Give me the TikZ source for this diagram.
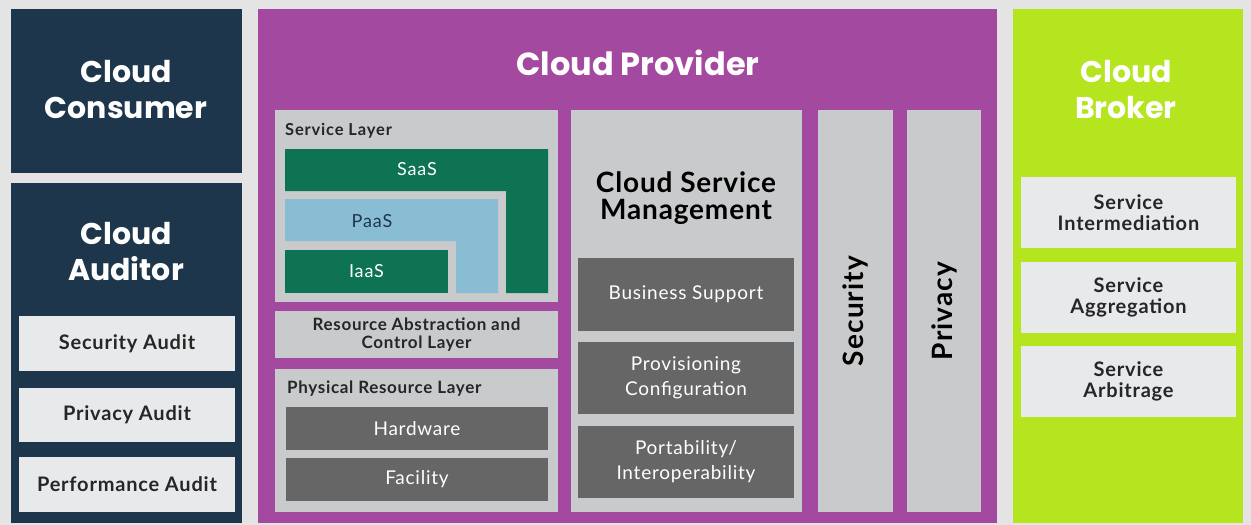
\documentclass[tikz,border=0pt]{standalone}
\usepackage{fontspec}
\setmainfont{Lato}
\newfontfamily\titlefont{Poppins}
\definecolor{bg}{HTML}{E4E4E4}
\definecolor{navy}{HTML}{1E364C}
\definecolor{purp}{HTML}{A349A0}
\definecolor{lime}{HTML}{B5E51F}
\definecolor{lgray}{HTML}{C9CACC}
\definecolor{dgray}{HTML}{666666}
\definecolor{dgreen}{HTML}{0E7353}
\definecolor{lblue}{HTML}{88BDD3}
\definecolor{pale}{HTML}{E8E9EB}
\tikzset{
  blk/.style={inner sep=0pt, outer sep=0pt, fill=#1, align=center},
  ttl/.style={text=white, font=\titlefont\fontsize{30}{36}\selectfont\bfseries, align=center, inner sep=0pt},
  lbl/.style={font=\fontsize{20}{20}\selectfont\bfseries\addfontfeatures{LetterSpace=4}, text=black!85, align=center},
  wlbl/.style={font=\fontsize{19}{25}\selectfont\addfontfeatures{LetterSpace=4}, text=white, align=center},
  brk/.style={lbl, font=\fontsize{20}{21}\selectfont\bfseries\addfontfeatures{LetterSpace=4}},
}
\newcommand{\bx}[7]{\node[blk=#6, minimum width={(#4)-(#2)}, minimum height={(#5)-(#3)}, #7] (#1) at ({((#2)+(#4))/2},{((#3)+(#5))/2})}
\begin{document}
\begin{tikzpicture}[x=1pt,y=-1pt]
\fill[bg] (0,0) rectangle (1251,525);
\useasboundingbox (0,0) rectangle (1251,525);
% Consumer
\bx{consumer}{11}{9}{242}{173}{navy}{}{};
\node[ttl] (consumerT) at (126,90) {Cloud\\Consumer};
% Auditor
\bx{auditor}{11}{183}{242}{523}{navy}{}{};
\node[ttl] (auditorT) at (126,252) {Cloud\\Auditor};
\bx{secaud}{19}{316}{235}{371}{pale}{lbl}{Security Audit};
\bx{privaud}{19}{388}{235}{442}{pale}{lbl}{Privacy Audit};
\bx{perfaud}{19}{457}{235}{512}{pale}{lbl}{Performance Audit};
% Provider
\bx{provider}{258}{9}{997}{523}{purp}{}{};
\node[ttl, font=\titlefont\fontsize{32}{36}\selectfont\bfseries] (providerT) at (638,63) {Cloud Provider};
% Service layer
\bx{servlayer}{275}{110}{558}{302}{lgray}{}{};
\node[lbl, font=\fontsize{16.5}{17}\selectfont\bfseries\addfontfeatures{LetterSpace=5}, anchor=west, inner sep=0pt] (servlayerT) at (285,131) {Service Layer};
\fill[dgreen] (285,149) -- (548,149) -- (548,293) -- (506,293) -- (506,191) -- (285,191) -- cycle;
\fill[lblue] (285,199) -- (498,199) -- (498,293) -- (456,293) -- (456,241) -- (285,241) -- cycle;
\bx{iaas}{285}{250}{448}{293}{dgreen}{}{};
\node[font=\fontsize{18}{19}\selectfont\addfontfeatures{LetterSpace=5}, text=white] (saasT) at (417,169) {SaaS};
\node[font=\fontsize{18}{19}\selectfont\addfontfeatures{LetterSpace=5}, text=navy] (paasT) at (372,221) {PaaS};
\node[font=\fontsize{18}{19}\selectfont\addfontfeatures{LetterSpace=5}, text=white] (iaasT) at (iaas) {IaaS};
% Resource abstraction
\bx{resabs}{275}{311}{558}{358}{lgray}{lbl, font=\fontsize{17}{18}\selectfont\bfseries\addfontfeatures{LetterSpace=4}}{Resource Abstraction and\\Control Layer};
% Physical
\bx{phys}{275}{369}{558}{512}{lgray}{}{};
\node[lbl, font=\fontsize{17}{17}\selectfont\bfseries\addfontfeatures{LetterSpace=4}, anchor=west, inner sep=0pt] (physT) at (287,389) {Physical Resource Layer};
\bx{hw}{286}{407}{548}{450}{dgray}{wlbl}{Hardware};
\bx{fac}{286}{458}{548}{501}{dgray}{wlbl}{Facility};
% CSM
\bx{csm}{571}{110}{802}{512}{lgray}{}{};
\node[font=\fontsize{28}{27}\selectfont\bfseries\addfontfeatures{LetterSpace=3}, text=black, align=center] (csmT) at (686,198) {Cloud Service\\Management};
\bx{bs}{578}{258}{794}{331}{dgray}{wlbl}{Business Support};
\bx{prov}{578}{342}{794}{414}{dgray}{wlbl}{Provisioning\\Configuration};
\bx{port}{578}{426}{794}{498}{dgray}{wlbl}{Portability/\\Interoperability};
% Security / Privacy
\bx{sec}{818}{110}{893}{512}{lgray}{}{};
\node[font=\fontsize{28}{26}\selectfont\bfseries\addfontfeatures{LetterSpace=4}, rotate=90] (secT) at (855,311) {Security};
\bx{priv}{907}{110}{981}{512}{lgray}{}{};
\node[font=\fontsize{28}{26}\selectfont\bfseries\addfontfeatures{LetterSpace=4}, rotate=90] (privT) at (944,311) {Privacy};
% Broker
\bx{broker}{1013}{9}{1243}{523}{lime}{}{};
\node[ttl] (brokerT) at (1126,90) {Cloud\\Broker};
\bx{inter}{1021}{177}{1236}{248}{pale}{brk}{Service\\Intermediation};
\bx{aggr}{1021}{262}{1236}{333}{pale}{brk}{Service\\Aggregation};
\bx{arbi}{1021}{346}{1236}{417}{pale}{brk}{Service\\Arbitrage};
\end{tikzpicture}
\end{document}
